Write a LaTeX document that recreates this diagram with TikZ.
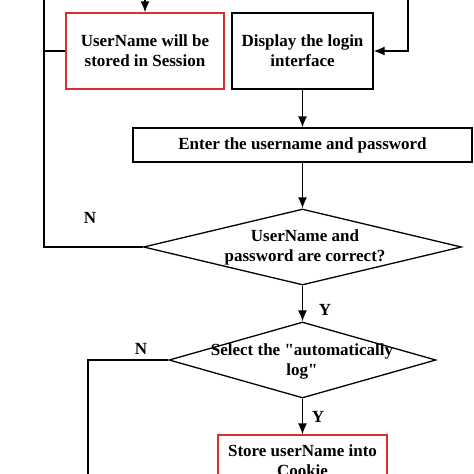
\documentclass[tikz,border=0pt]{standalone}
\usepackage{fontspec}
\setmainfont{Liberation Serif}
\usetikzlibrary{shapes.geometric,arrows.meta}
\definecolor{boxred}{RGB}{214,48,48}

\begin{document}
\begin{tikzpicture}[x=1pt,y=-1pt,line width=1.3pt,
    font=\fontsize{17}{20}\selectfont\bfseries,
    box/.style={draw,align=center,inner sep=0pt},
    redbox/.style={box,draw=boxred},
    cond/.style={draw,diamond,inner sep=0pt,minimum width=#1,minimum height=76pt},
    >={Latex[length=11pt,width=9pt]}]
    \useasboundingbox (0,0) rectangle (474,474);
    \clip (0,0) rectangle (474,474);

    \node[redbox, minimum width=158pt, minimum height=76pt] (1) at (145,51) {UserName will be\\stored in Session};
    \node[box, minimum width=141pt, minimum height=76pt] (2) at (302.5,51) {Display the login\\interface};
    \node[box, minimum width=339pt, minimum height=34pt] (3) at (302.5,145) {Enter the username and password};
    \node[cond=318pt] (5) at (302.5,247) {};
    \node[align=center] (5t) at (305,247) {UserName and\\password are correct?};
    \node[cond=267pt] (6) at (302.5,360) {};
    \node[align=center] (6t) at (302,361) {Select the \textquotedbl automatically\\log\textquotedbl};
    \node[redbox, minimum width=169pt, minimum height=52pt] (7) at (302.5,461) {Store userName into\\Cookie};

    \node (n1) at (90,218) {N};
    \node (n2) at (141,349) {N};
    \node (y1) at (325,310) {Y};
    \node (y2) at (318,417) {Y};

    \coordinate (t1) at (44,-5);
    \coordinate (t2) at (408,-5);
    \coordinate (t3) at (145,-5);
    \coordinate (b1) at (88,480);

    \draw[->] (t3) -- (1.north);
    \draw[->] (t2) |- (2.east);
    \draw (1.west) -- (1.west -| t1);
    \draw (5.west) -| (t1);
    \draw[->] (2) -- (3);
    \draw[->] (3) -- (5);
    \draw[->] (5) -- (6);
    \draw[->] (6) -- (7);
    \draw (6.west) -| (b1);
\end{tikzpicture}
\end{document}
